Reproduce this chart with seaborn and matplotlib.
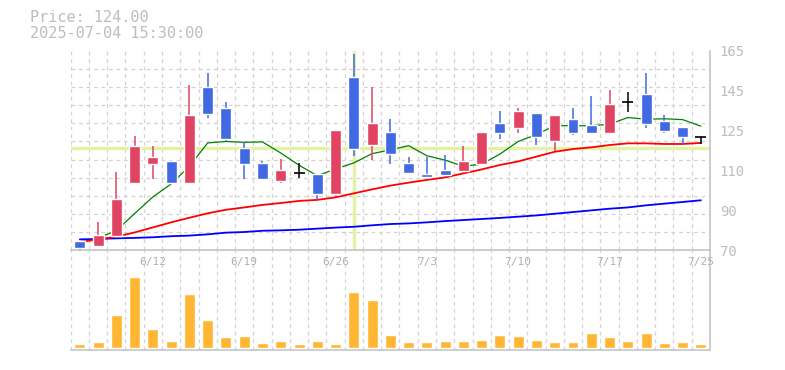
import numpy as np
import pandas as pd
import seaborn as sns
import matplotlib.pyplot as plt

# trading days shown on the chart
dates = ['6/6', '6/9', '6/10', '6/11', '6/12', '6/13', '6/16', '6/17', '6/18', '6/19', '6/20',
         '6/23', '6/24', '6/25', '6/26', '6/27', '6/30', '7/1', '7/2', '7/3', '7/4',
         '7/7', '7/8', '7/9', '7/10', '7/11', '7/14', '7/15', '7/16', '7/17', '7/18',
         '7/22', '7/23', '7/24', '7/25']
label_dates = ['6/12', '6/19', '6/26', '7/3', '7/10', '7/17', '7/25']

open_ = [74.4, 72.2, 76.8, 102.2, 111.2, 112.5, 102.2, 147.7, 137.7, 118.7, 111.6, 103.1,
         107.0, 106.3, 97.0, 152.5, 120.3, 126.2, 111.6, 106.3, 108.2, 107.9, 111.2, 130.6,
         128.4, 135.4, 122.0, 132.5, 129.6, 125.8, 140.4, 144.4, 131.5, 128.7, 124.0]
high = [74.6, 83.5, 107.3, 124.4, 119.6, 112.5, 148.7, 154.4, 140.6, 121.6, 112.5, 113.5,
        111.4, 106.3, 127.3, 163.4, 147.7, 132.5, 114.4, 114.4, 115.4, 119.6, 126.3, 136.3,
        137.7, 135.4, 134.4, 137.7, 143.4, 146.3, 145.4, 154.4, 134.4, 128.7, 124.0]
low = [70.0, 71.4, 76.0, 102.2, 104.1, 102.2, 102.2, 133.1, 121.9, 104.1, 104.1, 102.2,
       104.3, 93.8, 95.2, 115.0, 113.1, 111.2, 107.0, 105.0, 104.7, 107.0, 111.2, 123.0,
       125.8, 120.3, 117.1, 124.9, 125.8, 125.8, 135.8, 128.2, 125.8, 120.3, 120.4]
close = [71.3, 77.1, 94.4, 119.7, 114.4, 102.2, 134.4, 135.0, 123.1, 111.2, 104.1, 108.2,
         107.0, 97.0, 127.3, 118.4, 130.6, 116.0, 107.0, 105.0, 106.0, 112.5, 126.3, 125.8,
         136.3, 124.1, 134.4, 125.8, 125.8, 139.6, 140.4, 130.1, 126.8, 123.9, 124.0]

# moving averages
ma_short = [np.nan, 75.8, 79.4, 87.5, 95.4, 101.6, 110.0, 121.1, 121.8, 121.4, 121.6, 116.3,
            110.5, 105.5, 108.7, 111.6, 116.0, 117.8, 119.8, 115.0, 112.9, 110.0, 111.0, 115.8,
            121.8, 125.1, 129.3, 129.3, 129.3, 130.0, 133.2, 132.4, 132.6, 132.2, 129.1]
ma_mid = [74.0, 75.1, 76.5, 78.5, 80.9, 83.3, 85.5, 87.6, 89.3, 90.4, 91.6, 92.5, 93.5, 94.0,
          95.2, 97.1, 99.0, 100.8, 102.2, 103.5, 104.7, 106.6, 108.5, 110.6, 112.3, 114.6,
          116.9, 118.2, 119.0, 120.1, 120.9, 120.9, 120.6, 120.6, 121.1]
ma_long = [75.2, 75.4, 75.7, 75.9, 76.2, 76.7, 77.0, 77.6, 78.4, 78.7, 79.3, 79.5, 79.8, 80.3,
           80.8, 81.2, 81.9, 82.5, 82.8, 83.3, 83.9, 84.4, 84.9, 85.4, 86.0, 86.6, 87.4, 88.2,
           89.0, 89.8, 90.4, 91.4, 92.2, 93.0, 93.8]

volume = [12, 18, 99, 213, 57, 21, 162, 84, 33, 36, 15, 21, 12, 21, 12, 168, 144, 39, 18, 18,
          21, 21, 24, 39, 36, 24, 18, 18, 45, 33, 21, 45, 15, 18, 12]

y_ticks = [70, 89, 108, 127, 146, 165]
y_labels = ['70', '90', '110', '125', '145', '165']

cursor_date = '6/27'
cursor_price = 118.5
price_text = 'Price: 124.00'
time_text = '2025-07-04 15:30:00'

df = pd.DataFrame({'date': dates, 'open': open_, 'high': high, 'low': low, 'close': close,
                   'ma_short': ma_short, 'ma_mid': ma_mid, 'ma_long': ma_long,
                   'volume': volume})
df['i'] = np.arange(len(df))

sns.set_style('white')
plt.rcParams['font.family'] = ['DejaVu Sans Mono', 'DejaVu Sans']

UP = '#e04462'
DOWN = '#4169e1'
GRID = '#d3d3d3'
SPINE = '#c4c4c4'
TXT = '#bdbdbd'

fig = plt.figure(figsize=(7.85, 3.7), dpi=100)
axv = fig.add_axes([70.7 / 785, 1 - 350 / 370, 639.3 / 785, 99.7 / 370])
ax = fig.add_axes([70.7 / 785, 1 - 250.3 / 370, 639.3 / 785, 199.6 / 370])
ax.patch.set_alpha(0)

# crosshair (behind everything but grid)
ci = dates.index(cursor_date)
ax.axvline(ci, color='#e4f2a6', lw=2.4, zorder=1, ymin=0.01, ymax=0.995)
ax.axhline(cursor_price, color='#e4f2a6', lw=2.4, zorder=1)

# moving averages
sns.lineplot(data=df, x='i', y='ma_long', color='blue', lw=1.3, ax=ax, zorder=2,
             estimator=None, sort=False)
sns.lineplot(data=df, x='i', y='ma_mid', color='red', lw=1.3, ax=ax, zorder=2,
             estimator=None, sort=False)
sns.lineplot(data=df, x='i', y='ma_short', color='green', lw=0.9, ax=ax, zorder=2,
             estimator=None, sort=False)

# candles
for r in df.itertuples():
    if r.close > r.open:
        c = UP
    elif r.close < r.open:
        c = DOWN
    else:
        c = 'black'
    ax.vlines(r.i, r.low, r.high, color=c, lw=1.1, zorder=3)
    if c == 'black':
        ax.hlines(r.close, r.i - 0.3, r.i + 0.3, color=c, lw=1.2, zorder=4)
    else:
        ax.bar(r.i, abs(r.close - r.open), bottom=min(r.open, r.close), width=0.6,
               color=c, zorder=4)

# volume
sns.barplot(data=df, x='i', y='volume', native_scale=True, color='#ffb733', saturation=1,
            width=0.6, ax=axv, zorder=3)

for a in (ax, axv):
    a.set_xlim(-0.5, 34.5)
    a.set_xticks(np.arange(-0.5, 34, 1), minor=True)
    a.grid(False)
    a.grid(which='minor', axis='x', color=GRID, ls=(0, (3, 3)), lw=0.9)
    a.set_axisbelow(True)
    a.tick_params(which='both', length=0)
    a.spines['top'].set_visible(False)
    a.spines['left'].set_visible(False)
    for s in ('right', 'bottom'):
        a.spines[s].set_color(SPINE)
        a.spines[s].set_linewidth(1.2)
    a.set_xlabel('')
    a.set_ylabel('')

ax.set_ylim(70, 165)
ax.set_yticks(np.linspace(70, 165, 12), minor=True)
ax.grid(which='minor', axis='y', color=GRID, ls=(0, (3, 3)), lw=0.9)
ax.yaxis.tick_right()
ax.set_yticks(y_ticks)
ax.set_yticklabels(y_labels)
ax.tick_params(axis='y', which='major', pad=7, labelsize=10, labelcolor=TXT)
ax.set_xticks([dates.index(d) for d in label_dates])
ax.set_xticklabels(label_dates)
ax.tick_params(axis='x', which='major', pad=4.5, labelsize=8, labelcolor='#b0b0b0')

axv.set_ylim(-6, 293)
axv.set_yticks([])
axv.set_xticks([])

fig.text(30 / 785, 1 - 17.5 / 370, price_text, va='center', ha='left', fontsize=11,
         color=TXT)
fig.text(30 / 785, 1 - 33 / 370, time_text, va='center', ha='left', fontsize=11,
         color=TXT)

fig.savefig('out.png', dpi=100)
